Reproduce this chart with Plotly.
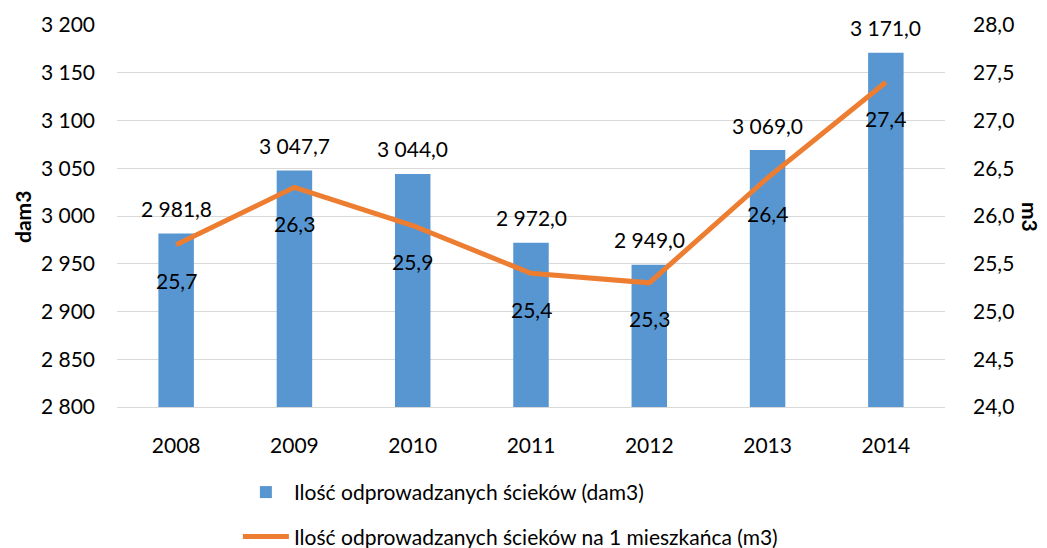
import plotly.graph_objects as go

years = ["2008", "2009", "2010", "2011", "2012", "2013", "2014"]
sewage_dam3 = [2981.8, 3047.7, 3044.0, 2972.0, 2949.0, 3069.0, 3171.0]
sewage_per_capita_m3 = [25.7, 26.3, 25.9, 25.4, 25.3, 26.4, 27.4]

bar_name = "Ilość odprowadzanych ścieków (dam3)"
line_name = "Ilość odprowadzanych ścieków na 1 mieszkańca (m3)"

FONT = "Lato"
FS = 21
BODY = 8  # default page body margin in the written HTML


def fmt(v):
    s = f"{v:,.1f}"
    return s.replace(",", " ").replace(".", ",")


fig = go.Figure()
fig.add_trace(go.Bar(
    x=years, y=sewage_dam3, name=bar_name, width=0.3,
    marker=dict(color="#5896D2", line=dict(width=0)),
    legendgroup="a", yaxis="y",
))
fig.add_trace(go.Scatter(
    x=years, y=sewage_per_capita_m3, name=line_name, mode="lines",
    line=dict(color="#ED7D31", width=5),
    legendgroup="b", yaxis="y2",
))

annotations = []
for i, v in enumerate(sewage_dam3):
    annotations.append(dict(x=i, y=v, xref="x", yref="y", text=fmt(v),
                            showarrow=False, yanchor="middle", yshift=25,
                            font=dict(family=FONT, size=FS, color="#000")))
for i, v in enumerate(sewage_per_capita_m3):
    annotations.append(dict(x=i, y=v, xref="x", yref="y2", text=fmt(v),
                            showarrow=False, yanchor="middle", yshift=-36,
                            font=dict(family=FONT, size=FS, color="#000")))
annotations.append(dict(x=(22 - 117) / 828, y=(407 - 217) / 382, xref="paper", yref="paper",
                        xanchor="center", yanchor="middle",
                        text="<b>dam3</b>", showarrow=False, textangle=-90,
                        font=dict(family=FONT, size=FS, color="#000")))
annotations.append(dict(x=(1031 - 117) / 828, y=(407 - 217) / 382, xref="paper", yref="paper",
                        xanchor="center", yanchor="middle",
                        text="<b>m3</b>", showarrow=False, textangle=90,
                        font=dict(family=FONT, size=FS, color="#000")))

fig.update_layout(
    width=1047 - BODY, height=548 - BODY,
    margin=dict(l=117 - BODY, r=102, t=25 - BODY, b=141, autoexpand=False),
    paper_bgcolor="white", plot_bgcolor="white",
    separators=", ",
    font=dict(family=FONT, size=FS, color="#000"),
    bargap=0.7,
    xaxis=dict(type="category", range=[-0.5, 6.5], showgrid=False, showline=True,
               linecolor="#D9D9D9", linewidth=1, ticks="", ticklabelstandoff=20,
               zeroline=False, automargin=False),
    yaxis=dict(range=[2800, 3200], dtick=50, tickformat=",.0f", showgrid=True,
               gridcolor="#D9D9D9", gridwidth=1, zeroline=False, showline=False,
               ticks="", ticklabelstandoff=21, automargin=False),
    yaxis2=dict(range=[24, 28], dtick=0.5, tickformat=".1f", overlaying="y",
                side="right", showgrid=False, zeroline=False, showline=False,
                ticks="", ticklabelstandoff=27, automargin=False),
    legend=dict(orientation="v", x=0.146, y=-0.17,
                xanchor="left", yanchor="top",
                traceorder="grouped", tracegroupgap=14, itemwidth=46,
                font=dict(family=FONT, size=FS, color="#000")),
    annotations=annotations,
)

fig.write_html("out.html")
